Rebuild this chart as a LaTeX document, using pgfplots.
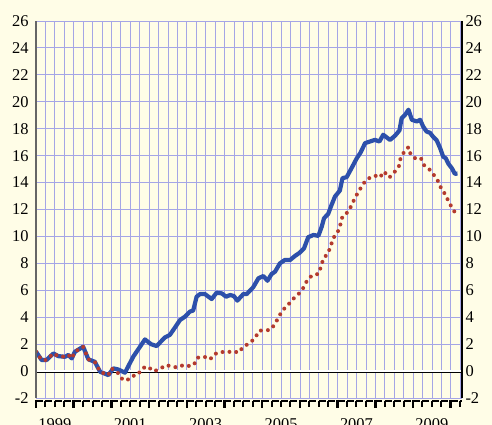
\documentclass[border=0pt]{standalone}
\usepackage{fontspec}
\setmainfont{Liberation Serif}
\usepackage{pgfplots}
\pgfplotsset{compat=1.18}
\definecolor{bgcol}{RGB}{255,253,231}
\definecolor{gridcol}{RGB}{165,165,230}
\definecolor{bluec}{RGB}{45,80,170}
\definecolor{redc}{RGB}{180,58,45}
\begin{document}
\begin{tikzpicture}
\fill[bgcol, use as bounding box] (-36bp,-27bp) rectangle (456bp,398bp);
\begin{axis}[
  name=main, scale only axis, width=426bp, height=377bp,
  xmin=1999, xmax=2010.3, ymin=-2, ymax=26,
  axis line style={draw=none},
  xtick={1999.5,2001.5,2003.5,2005.5,2007.5,2009.5},
  xticklabels={1999,2001,2003,2005,2007,2009},
  minor xtick={1999,1999.25,...,2010.3},
  ytick={-2,0,...,26},
  major tick length=0pt, minor tick length=0pt,
  ymajorgrids, xminorgrids,
  major grid style={gridcol, line width=0.9bp},
  minor grid style={gridcol, line width=0.9bp},
  tick label style={font=\fontsize{16.5}{18}\selectfont},
  xticklabel style={yshift=-17bp},
  yticklabel style={xshift=-4bp},
  xtick pos=left, ytick pos=left,
  /pgf/number format/assume math mode=true,
  after end axis/.code={
    \foreach \k in {0,1,2,3}{
      \foreach \j in {0,4,...,40}{
        \draw[black, line width=2bp]
          ([yshift=-2.5bp]rel axis cs:{(\j+\k)/45.2},0) -- ++(0,-6.5bp);
        \draw[black, line width=2bp]
          ([yshift=-2.5bp]rel axis cs:{(\j+\k)/45.2},0) -- ++(7bp,0);
      }
    }
    \draw[black, line width=2bp] ([yshift=-2.5bp]rel axis cs:{44/45.2},0) -- ++(0,-6.5bp);
    \draw[black, line width=2bp] ([yshift=-2.5bp]rel axis cs:{44/45.2},0) -- ++(7bp,0);
    \draw[black, line width=2bp] ([yshift=-2.5bp]rel axis cs:{45/45.2},0) -- ++(0,-6.5bp);
    \draw[black, line width=2bp] ([yshift=-2.5bp]rel axis cs:{45/45.2},0) -- ([yshift=-2.5bp]rel axis cs:1,0);
    \foreach \k in {0,4,...,44}{
      \draw[black, line width=2.6bp] ([yshift=-1.8bp]rel axis cs:{\k/45.2},0) -- ++(0,-8.5bp);
    }
    \draw[black!60, line width=2.5bp] (rel axis cs:0,0) -- (rel axis cs:0,1);
    \draw[black, line width=1.2bp] (rel axis cs:1,0) -- (rel axis cs:1,1);
  },
]
\draw[white, line width=2bp] (axis cs:1999,0) -- (axis cs:2010.3,0);
\draw[black, line width=1bp] ([yshift=-1.3bp]axis cs:1999,0) -- ([yshift=-1.3bp]axis cs:2010.3,0);
\addplot[bluec, line width=4.2bp, line join=round] coordinates {
(1999.00,1.45) (1999.15,0.82) (1999.28,0.82) (1999.46,1.31) (1999.59,1.11)
(1999.77,1.06) (1999.86,1.20) (1999.95,0.94) (2000.03,1.43) (2000.25,1.81)
(2000.39,0.87) (2000.56,0.69) (2000.70,-0.05) (2000.92,-0.30) (2001.05,0.20)
(2001.18,0.12) (2001.36,-0.12) (2001.58,1.07) (2001.89,2.35) (2002.05,2.00)
(2002.20,1.86) (2002.42,2.50) (2002.55,2.68) (2002.69,3.25) (2002.82,3.79)
(2002.95,4.04) (2003.08,4.41) (2003.17,4.50) (2003.26,5.52) (2003.35,5.72)
(2003.48,5.72) (2003.66,5.35) (2003.79,5.82) (2003.93,5.77) (2004.04,5.52)
(2004.15,5.65) (2004.25,5.57) (2004.34,5.23) (2004.50,5.72) (2004.59,5.72)
(2004.76,6.22) (2004.90,6.89) (2005.03,7.06) (2005.14,6.71) (2005.25,7.21)
(2005.34,7.38) (2005.47,8.00) (2005.60,8.25) (2005.74,8.25) (2005.87,8.55)
(2006.00,8.80) (2006.11,9.12) (2006.22,9.94) (2006.36,10.11) (2006.49,10.04)
(2006.58,10.73) (2006.64,11.35) (2006.75,11.67) (2006.84,12.34) (2006.93,12.96)
(2007.06,13.41) (2007.13,14.33) (2007.24,14.40) (2007.37,15.07) (2007.51,15.81)
(2007.61,16.23) (2007.73,16.93) (2007.86,17.05) (2007.99,17.17) (2008.11,17.05)
(2008.21,17.55) (2008.39,17.17) (2008.52,17.47) (2008.64,17.87) (2008.70,18.79)
(2008.79,19.03) (2008.88,19.41) (2008.97,18.66) (2009.10,18.54) (2009.19,18.66)
(2009.27,18.16) (2009.36,17.79) (2009.45,17.70) (2009.54,17.38) (2009.63,17.13)
(2009.72,16.56) (2009.80,15.93) (2009.87,15.80) (2009.94,15.39) (2010.03,15.07)
(2010.11,14.65) (2010.18,14.67)
};
\addplot[redc, line width=4bp, line cap=round, dash pattern=on 0bp off 7bp] coordinates {
(1999.00,1.45) (1999.15,0.82) (1999.28,0.82) (1999.46,1.31) (1999.59,1.11)
(1999.77,1.06) (1999.86,1.20) (1999.95,0.94) (2000.03,1.43) (2000.25,1.81)
(2000.39,0.87) (2000.56,0.69) (2000.70,-0.05) (2000.92,-0.30) (2001.00,0.20)
(2001.15,-0.05) (2001.27,-0.55) (2001.40,-0.72) (2001.55,-0.37) (2001.69,-0.30)
(2001.82,0.20) (2001.95,0.35) (2002.13,-0.02) (2002.31,0.20) (2002.45,0.45)
(2002.62,0.32) (2002.76,0.27) (2002.91,0.45) (2003.08,0.37) (2003.19,0.47)
(2003.28,0.99) (2003.46,1.07) (2003.62,0.87) (2003.72,1.24) (2003.90,1.43)
(2004.06,1.38) (2004.23,1.49) (2004.37,1.36) (2004.50,1.81) (2004.66,2.06)
(2004.81,2.45) (2004.92,3.00) (2005.07,3.03) (2005.21,3.05) (2005.34,3.49)
(2005.43,3.99) (2005.54,4.51) (2005.69,4.93) (2005.83,5.38) (2005.98,5.77)
(2006.11,6.25) (2006.20,6.79) (2006.34,7.14) (2006.49,7.21) (2006.56,7.76)
(2006.62,8.33) (2006.75,8.77) (2006.82,9.32) (2006.89,9.89) (2007.01,10.38)
(2007.08,10.93) (2007.13,11.50) (2007.26,11.78) (2007.37,12.29) (2007.46,12.87)
(2007.57,13.38) (2007.67,13.88) (2007.80,14.28) (2007.99,14.52) (2008.12,14.37)
(2008.23,14.82) (2008.37,14.37) (2008.50,14.74) (2008.63,15.24) (2008.67,15.81)
(2008.77,16.30) (2008.88,16.63) (2008.94,16.06) (2009.08,15.76) (2009.21,15.81)
(2009.30,15.26) (2009.45,14.94) (2009.57,14.50) (2009.69,14.00) (2009.76,13.46)
(2009.87,13.09) (2009.95,12.52) (2010.07,12.02) (2010.12,11.70)
};
\end{axis}
\begin{axis}[
  scale only axis, width=426bp, height=377bp,
  xmin=1999, xmax=2010.3, ymin=-2, ymax=26,
  axis line style={draw=none},
  xtick=\empty, ytick pos=right, yticklabel pos=right,
  ytick={-2,0,...,26}, major tick length=0pt,
  tick label style={font=\fontsize{16.5}{18}\selectfont},
  /pgf/number format/assume math mode=true,
]
\addplot[draw=none] coordinates {(2000,0)};
\end{axis}
\end{tikzpicture}
\end{document}
